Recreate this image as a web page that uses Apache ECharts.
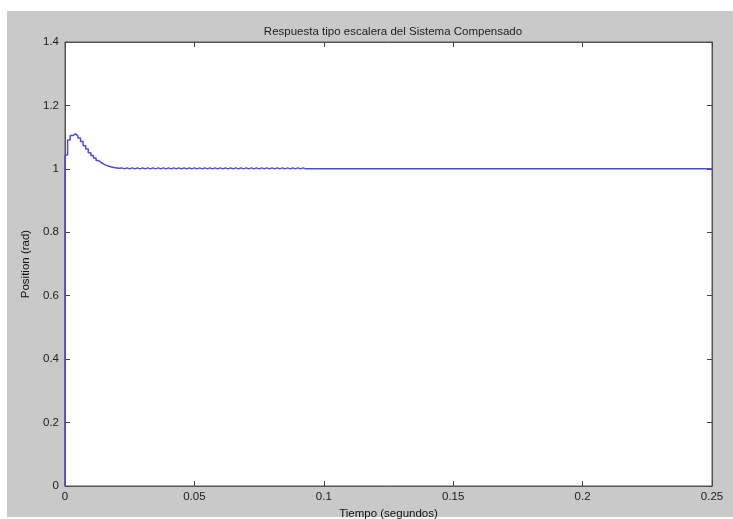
<!DOCTYPE html>
<html>
<head>
<meta charset="utf-8">
<script src="https://cdn.jsdelivr.net/npm/echarts@6/dist/echarts.min.js"></script>
<style>
html, body { margin: 0; padding: 0; background: #fff; }
#bg { position: absolute; left: 7px; top: 11px; width: 726px; height: 506px; background: #c9c9c9; }
#chart { position: absolute; left: 0; top: 0; width: 733px; height: 519px; }
</style>
</head>
<body>
<div id="bg"></div>
<div id="chart"></div>
<script>
// step response of the compensated system, one value per sample
var sampleTime = 0.001;
var stepValues = [
  1.044, 1.091, 1.105, 1.110, 1.104, 1.097, 1.086, 1.073, 1.063, 1.051,
  1.042, 1.034, 1.026, 1.020, 1.015, 1.011, 1.008, 1.006, 1.004, 1.003,
  1.002, 1.003, 1.000, 1.003, 1.000, 1.003, 1.000, 1.003, 1.000, 1.003,
  1.000, 1.003, 1.000, 1.003, 1.000, 1.003, 1.000, 1.003, 1.000, 1.003,
  1.000, 1.003, 1.000, 1.003, 1.000, 1.003, 1.000, 1.003, 1.000, 1.003,
  1.000, 1.003, 1.000, 1.003, 1.000, 1.003, 1.000, 1.003, 1.000, 1.003,
  1.000, 1.003, 1.000, 1.003, 1.000, 1.003, 1.000, 1.003, 1.000, 1.003,
  1.000, 1.003, 1.000, 1.003, 1.000, 1.003, 1.000, 1.003, 1.000, 1.003,
  1.000, 1.003, 1.000, 1.003, 1.000, 1.003, 1.000, 1.003, 1.000, 1.003,
  1.000, 1.003, 1.000
];
var finalTime = 0.25;
var finalValue = 1.0;

var xTicks = [0, 0.05, 0.1, 0.15, 0.2, 0.25];
var yTicks = [0, 0.2, 0.4, 0.6, 0.8, 1, 1.2, 1.4];

var titleTxt = 'Respuesta tipo escalera del Sistema Compensado';
var xName = 'Tiempo (segundos)';
var yName = 'Position (rad)';

var points = [[0, 0]];
for (var k = 0; k < stepValues.length; k++) {
  points.push([k * sampleTime, stepValues[k]]);
}
points.push([stepValues.length * sampleTime, finalValue]);
points.push([finalTime, finalValue]);

var font = 'Liberation Sans, Arial, sans-serif';
var tickStyle = { show: true, inside: true, length: 5, lineStyle: { color: '#444', width: 1 } };

function xAxisDef(pos, labels) {
  return {
    type: 'value', position: pos,
    min: xTicks[0], max: xTicks[xTicks.length - 1], interval: xTicks[1] - xTicks[0],
    axisLine: { show: true, onZero: false, lineStyle: { color: '#555', width: 1 } },
    axisTick: tickStyle,
    splitLine: { show: false },
    axisLabel: { show: labels, margin: 5, color: '#222', fontSize: 11.5, fontFamily: font },
    name: labels ? xName : '', nameLocation: 'middle', nameGap: 20,
    nameTextStyle: { color: '#111', fontSize: 11.5, fontFamily: font }
  };
}
function yAxisDef(pos, labels) {
  return {
    type: 'value', position: pos,
    min: yTicks[0], max: yTicks[yTicks.length - 1], interval: yTicks[1] - yTicks[0],
    axisLine: { show: true, onZero: false, lineStyle: { color: '#555', width: 1 } },
    axisTick: tickStyle,
    splitLine: { show: false },
    axisLabel: { show: labels, margin: 6, color: '#222', fontSize: 11.5, fontFamily: font },
    name: labels ? yName : '', nameLocation: 'middle', nameGap: 27,
    nameTextStyle: { color: '#111', fontSize: 11.5, fontFamily: font }
  };
}

var myChart = echarts.init(document.getElementById('chart'));
myChart.setOption({
  backgroundColor: 'transparent',
  animation: false,
  title: {
    text: titleTxt, left: 388, top: 21, textAlign: 'center',
    textStyle: { color: '#222', fontSize: 11.5, fontWeight: 'normal', fontFamily: font }
  },
  grid: {
    left: 65, right: 21, top: 42, bottom: 33, outerBoundsMode: 'none',
    show: true, backgroundColor: '#fff', borderColor: '#555', borderWidth: 1
  },
  xAxis: [xAxisDef('bottom', true), xAxisDef('top', false)],
  yAxis: [yAxisDef('left', true), yAxisDef('right', false)],
  series: [{
    type: 'line', step: 'end', showSymbol: false,
    data: points,
    lineStyle: { color: '#4b4be6', width: 1.5 }
  }]
});
</script>
</body>
</html>
